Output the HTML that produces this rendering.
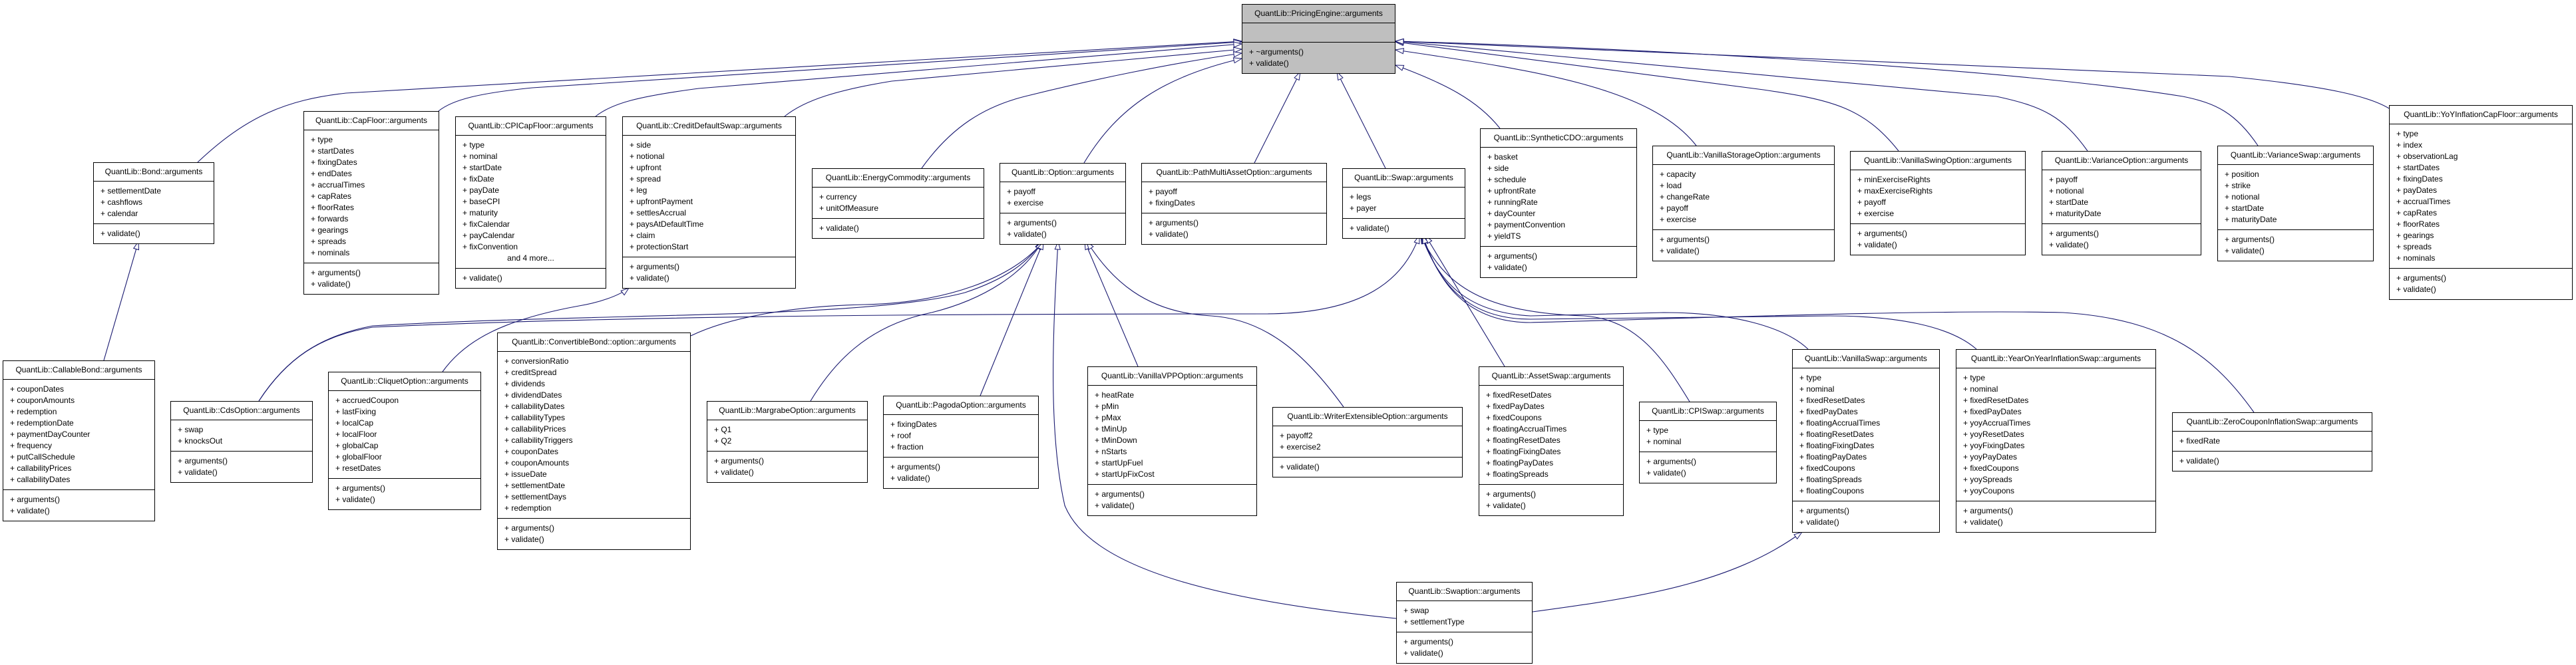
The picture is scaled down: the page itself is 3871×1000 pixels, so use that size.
<!DOCTYPE html>
<html><head><meta charset="utf-8">
<style>
html,body{margin:0;padding:0;background:#fff;}
body{width:3871px;height:1000px;position:relative;overflow:hidden;font-family:"Liberation Sans",sans-serif;font-size:12px;color:#000;}
svg{position:absolute;left:0;top:0;}
.b{position:absolute;border:1px solid #000;background:#fff;box-sizing:border-box;}
.h{height:27px;line-height:27px;text-align:center;border-bottom:1px solid #000;white-space:nowrap;overflow:hidden;}
.s{padding:6px 10px;line-height:17px;white-space:nowrap;}
.s+.s{border-top:1px solid #000;}
.g{background:#bfbfbf;}
.c{text-align:center;}
</style></head><body>
<svg width="3871" height="1000" viewBox="0 0 3871 1000">
<defs><marker id="a" markerWidth="14" markerHeight="10" refX="13" refY="5" orient="auto" markerUnits="userSpaceOnUse"><path d="M1,1 L13,5 L1,9 z" fill="#fff" stroke="#191970" stroke-width="1"/></marker></defs>
<g fill="none" stroke="#191970" stroke-width="1.1" marker-end="url(#a)">
<path d="M297,244 C370,175 430,150 520,140 L1866,62"/>
<path d="M659,167 C680,150 720,140 800,132 L1866,63"/>
<path d="M895,175 C920,155 960,145 1050,133 L1866,66"/>
<path d="M1179,175 C1210,150 1260,135 1340,122 L1866,74"/>
<path d="M1385,253 C1430,190 1480,160 1540,145 C1640,120 1760,95 1866,80"/>
<path d="M1629,245 C1680,160 1750,115 1866,88"/>
<path d="M1885,245 L1954,108"/>
<path d="M2082,253 L2009,108"/>
<path d="M2254,193 C2220,150 2170,125 2097,98"/>
<path d="M2549,219 C2480,130 2300,105 2097,75"/>
<path d="M2853,227 C2800,160 2750,150 2650,135 L2097,63"/>
<path d="M3137,227 C3100,175 3070,160 3000,145 L2097,62"/>
<path d="M3393,219 C3360,170 3330,155 3280,145 C3000,100 2400,70 2097,62"/>
<path d="M3590,163 C3560,145 3500,130 3350,115 L2097,62"/>
<path d="M389,603 C430,540 480,505 560,490 C900,470 1300,480 1450,440 C1510,420 1545,395 1566,363"/>
<path d="M389,603 C430,540 480,505 560,492 C1000,472 1600,472 1900,472 C2050,472 2110,420 2133,354"/>
<path d="M665,559 C700,510 760,480 870,460 C900,455 930,445 945,433"/>
<path d="M1038,505 C1100,475 1200,460 1300,458 C1420,455 1520,420 1568,363"/>
<path d="M1218,603 C1250,550 1300,490 1400,470 C1480,450 1540,410 1566,363"/>
<path d="M1473,595 L1568,363"/>
<path d="M2098,930 C1850,905 1640,860 1600,760 C1575,650 1582,500 1590,363"/>
<path d="M1710,551 L1630,363"/>
<path d="M2019,612 C1960,530 1900,480 1820,475 C1720,470 1670,420 1633,363"/>
<path d="M2261,551 L2142,354"/>
<path d="M2539,604 C2500,540 2460,480 2380,475 C2230,470 2170,430 2135,354"/>
<path d="M2717,525 C2680,490 2600,470 2500,470 L2300,475 C2200,470 2160,420 2136,354"/>
<path d="M2970,525 C2930,490 2850,475 2750,475 L2300,480 C2200,480 2160,420 2137,354"/>
<path d="M3387,620 C3330,540 3260,480 3100,470 C2900,465 2500,480 2300,485 C2200,485 2160,420 2138,354"/>
<path d="M2303,920 C2450,900 2600,880 2708,800"/>
<path d="M156,542 L208,363"/>
</g>
</svg>

<div class="b g" style="left:1866px;top:6px;width:231px;"><div class="h">QuantLib::PricingEngine::arguments</div><div class="s" style="height:16px"></div><div class="s">+ ~arguments()<br>+ validate()</div></div>

<div class="b" style="left:140px;top:244px;width:182px;"><div class="h">QuantLib::Bond::arguments</div><div class="s">+ settlementDate<br>+ cashflows<br>+ calendar</div><div class="s">+ validate()</div></div>

<div class="b" style="left:456px;top:167px;width:204px;"><div class="h">QuantLib::CapFloor::arguments</div><div class="s">+ type<br>+ startDates<br>+ fixingDates<br>+ endDates<br>+ accrualTimes<br>+ capRates<br>+ floorRates<br>+ forwards<br>+ gearings<br>+ spreads<br>+ nominals</div><div class="s">+ arguments()<br>+ validate()</div></div>

<div class="b" style="left:684px;top:175px;width:227px;"><div class="h">QuantLib::CPICapFloor::arguments</div><div class="s">+ type<br>+ nominal<br>+ startDate<br>+ fixDate<br>+ payDate<br>+ baseCPI<br>+ maturity<br>+ fixCalendar<br>+ payCalendar<br>+ fixConvention<div class="c">and 4 more...</div></div><div class="s">+ validate()</div></div>

<div class="b" style="left:935px;top:175px;width:261px;"><div class="h">QuantLib::CreditDefaultSwap::arguments</div><div class="s">+ side<br>+ notional<br>+ upfront<br>+ spread<br>+ leg<br>+ upfrontPayment<br>+ settlesAccrual<br>+ paysAtDefaultTime<br>+ claim<br>+ protectionStart</div><div class="s">+ arguments()<br>+ validate()</div></div>

<div class="b" style="left:1220px;top:253px;width:259px;"><div class="h">QuantLib::EnergyCommodity::arguments</div><div class="s">+ currency<br>+ unitOfMeasure</div><div class="s">+ validate()</div></div>

<div class="b" style="left:1502px;top:245px;width:190px;"><div class="h">QuantLib::Option::arguments</div><div class="s">+ payoff<br>+ exercise</div><div class="s">+ arguments()<br>+ validate()</div></div>

<div class="b" style="left:1715px;top:245px;width:279px;"><div class="h">QuantLib::PathMultiAssetOption::arguments</div><div class="s">+ payoff<br>+ fixingDates</div><div class="s">+ arguments()<br>+ validate()</div></div>

<div class="b" style="left:2017px;top:253px;width:185px;"><div class="h">QuantLib::Swap::arguments</div><div class="s">+ legs<br>+ payer</div><div class="s">+ validate()</div></div>

<div class="b" style="left:2224px;top:193px;width:236px;"><div class="h">QuantLib::SyntheticCDO::arguments</div><div class="s">+ basket<br>+ side<br>+ schedule<br>+ upfrontRate<br>+ runningRate<br>+ dayCounter<br>+ paymentConvention<br>+ yieldTS</div><div class="s">+ arguments()<br>+ validate()</div></div>

<div class="b" style="left:2483px;top:219px;width:274px;"><div class="h">QuantLib::VanillaStorageOption::arguments</div><div class="s">+ capacity<br>+ load<br>+ changeRate<br>+ payoff<br>+ exercise</div><div class="s">+ arguments()<br>+ validate()</div></div>

<div class="b" style="left:2780px;top:227px;width:264px;"><div class="h">QuantLib::VanillaSwingOption::arguments</div><div class="s">+ minExerciseRights<br>+ maxExerciseRights<br>+ payoff<br>+ exercise</div><div class="s">+ arguments()<br>+ validate()</div></div>

<div class="b" style="left:3068px;top:227px;width:240px;"><div class="h">QuantLib::VarianceOption::arguments</div><div class="s">+ payoff<br>+ notional<br>+ startDate<br>+ maturityDate</div><div class="s">+ arguments()<br>+ validate()</div></div>

<div class="b" style="left:3332px;top:219px;width:235px;"><div class="h">QuantLib::VarianceSwap::arguments</div><div class="s">+ position<br>+ strike<br>+ notional<br>+ startDate<br>+ maturityDate</div><div class="s">+ arguments()<br>+ validate()</div></div>

<div class="b" style="left:3590px;top:158px;width:276px;"><div class="h">QuantLib::YoYInflationCapFloor::arguments</div><div class="s">+ type<br>+ index<br>+ observationLag<br>+ startDates<br>+ fixingDates<br>+ payDates<br>+ accrualTimes<br>+ capRates<br>+ floorRates<br>+ gearings<br>+ spreads<br>+ nominals</div><div class="s">+ arguments()<br>+ validate()</div></div>

<div class="b" style="left:4px;top:542px;width:229px;"><div class="h">QuantLib::CallableBond::arguments</div><div class="s">+ couponDates<br>+ couponAmounts<br>+ redemption<br>+ redemptionDate<br>+ paymentDayCounter<br>+ frequency<br>+ putCallSchedule<br>+ callabilityPrices<br>+ callabilityDates</div><div class="s">+ arguments()<br>+ validate()</div></div>

<div class="b" style="left:256px;top:603px;width:214px;"><div class="h">QuantLib::CdsOption::arguments</div><div class="s">+ swap<br>+ knocksOut</div><div class="s">+ arguments()<br>+ validate()</div></div>

<div class="b" style="left:493px;top:559px;width:230px;"><div class="h">QuantLib::CliquetOption::arguments</div><div class="s">+ accruedCoupon<br>+ lastFixing<br>+ localCap<br>+ localFloor<br>+ globalCap<br>+ globalFloor<br>+ resetDates</div><div class="s">+ arguments()<br>+ validate()</div></div>

<div class="b" style="left:747px;top:500px;width:291px;"><div class="h">QuantLib::ConvertibleBond::option::arguments</div><div class="s">+ conversionRatio<br>+ creditSpread<br>+ dividends<br>+ dividendDates<br>+ callabilityDates<br>+ callabilityTypes<br>+ callabilityPrices<br>+ callabilityTriggers<br>+ couponDates<br>+ couponAmounts<br>+ issueDate<br>+ settlementDate<br>+ settlementDays<br>+ redemption</div><div class="s">+ arguments()<br>+ validate()</div></div>

<div class="b" style="left:1062px;top:603px;width:242px;"><div class="h">QuantLib::MargrabeOption::arguments</div><div class="s">+ Q1<br>+ Q2</div><div class="s">+ arguments()<br>+ validate()</div></div>

<div class="b" style="left:1327px;top:595px;width:234px;"><div class="h">QuantLib::PagodaOption::arguments</div><div class="s">+ fixingDates<br>+ roof<br>+ fraction</div><div class="s">+ arguments()<br>+ validate()</div></div>

<div class="b" style="left:1634px;top:551px;width:255px;"><div class="h">QuantLib::VanillaVPPOption::arguments</div><div class="s">+ heatRate<br>+ pMin<br>+ pMax<br>+ tMinUp<br>+ tMinDown<br>+ nStarts<br>+ startUpFuel<br>+ startUpFixCost</div><div class="s">+ arguments()<br>+ validate()</div></div>

<div class="b" style="left:1912px;top:612px;width:286px;"><div class="h">QuantLib::WriterExtensibleOption::arguments</div><div class="s">+ payoff2<br>+ exercise2</div><div class="s">+ validate()</div></div>

<div class="b" style="left:2222px;top:551px;width:218px;"><div class="h">QuantLib::AssetSwap::arguments</div><div class="s">+ fixedResetDates<br>+ fixedPayDates<br>+ fixedCoupons<br>+ floatingAccrualTimes<br>+ floatingResetDates<br>+ floatingFixingDates<br>+ floatingPayDates<br>+ floatingSpreads</div><div class="s">+ arguments()<br>+ validate()</div></div>

<div class="b" style="left:2463px;top:604px;width:207px;"><div class="h">QuantLib::CPISwap::arguments</div><div class="s">+ type<br>+ nominal</div><div class="s">+ arguments()<br>+ validate()</div></div>

<div class="b" style="left:2693px;top:525px;width:222px;"><div class="h">QuantLib::VanillaSwap::arguments</div><div class="s">+ type<br>+ nominal<br>+ fixedResetDates<br>+ fixedPayDates<br>+ floatingAccrualTimes<br>+ floatingResetDates<br>+ floatingFixingDates<br>+ floatingPayDates<br>+ fixedCoupons<br>+ floatingSpreads<br>+ floatingCoupons</div><div class="s">+ arguments()<br>+ validate()</div></div>

<div class="b" style="left:2939px;top:525px;width:301px;"><div class="h">QuantLib::YearOnYearInflationSwap::arguments</div><div class="s">+ type<br>+ nominal<br>+ fixedResetDates<br>+ fixedPayDates<br>+ yoyAccrualTimes<br>+ yoyResetDates<br>+ yoyFixingDates<br>+ yoyPayDates<br>+ fixedCoupons<br>+ yoySpreads<br>+ yoyCoupons</div><div class="s">+ arguments()<br>+ validate()</div></div>

<div class="b" style="left:3264px;top:620px;width:301px;"><div class="h">QuantLib::ZeroCouponInflationSwap::arguments</div><div class="s">+ fixedRate</div><div class="s">+ validate()</div></div>

<div class="b" style="left:2098px;top:875px;width:205px;"><div class="h">QuantLib::Swaption::arguments</div><div class="s">+ swap<br>+ settlementType</div><div class="s">+ arguments()<br>+ validate()</div></div>

</body></html>
